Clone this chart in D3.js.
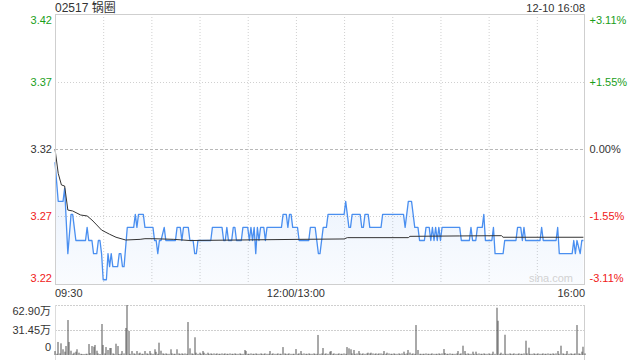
<!DOCTYPE html>
<html><head><meta charset="utf-8">
<script src="https://cdn.jsdelivr.net/npm/d3@7"></script>
<style>
html,body{margin:0;padding:0;background:#fff;}
svg{display:block;font-family:"Liberation Sans","Noto Sans CJK SC",Arial,sans-serif;}
</style></head>
<body><svg id="c" width="640" height="360"></svg>
<script>
// ---- data ----
const title = "02517 锅圈";
const stamp = "12-10 16:08";
const prevClose = 3.32;
const pctTicks = [3.11, 1.55, 0, -1.55, -3.11];
const priceTickLabels = ["3.42", "3.37", "3.32", "3.27", "3.22"];
const pctTickLabels = ["+3.11%", "+1.55%", "0.00%", "-1.55%", "-3.11%"];
const timeTickMinutes = [0, 150, 330];
const timeTickLabels = ["09:30", "12:00/13:00", "16:00"];
const volTicks = [62.9, 31.45, 0];
const volTickLabels = ["62.90万", "31.45万", "0"];
// [trading minute since 09:30, price]
const priceSeries = [[0,3.31],[2,3.28],[5,3.28],[6,3.29],[8,3.24],[10,3.27],[11,3.27],[12,3.26],[13,3.25],[19,3.25],[20,3.26],[21,3.25],[23,3.25],[24,3.24],[26,3.24],[27,3.25],[28,3.25],[29,3.24],[30,3.22],[32,3.22],[33,3.24],[34,3.23],[35,3.24],[36,3.23],[39,3.23],[40,3.24],[41,3.24],[42,3.23],[43,3.23],[45,3.26],[49,3.26],[50,3.27],[51,3.26],[52,3.27],[55,3.27],[56,3.26],[61,3.26],[62,3.25],[63,3.25],[64,3.24],[65,3.25],[66,3.25],[68,3.26],[69,3.25],[75,3.25],[76,3.26],[78,3.26],[79,3.25],[80,3.26],[83,3.26],[84,3.25],[86,3.25],[87,3.24],[88,3.24],[89,3.25],[97,3.25],[98,3.26],[104,3.26],[105,3.25],[106,3.25],[107,3.26],[108,3.25],[110,3.25],[111,3.26],[112,3.26],[113,3.25],[116,3.25],[117,3.26],[120,3.26],[121,3.25],[122,3.26],[123,3.25],[124,3.26],[125,3.24],[126,3.26],[127,3.25],[128,3.26],[130,3.26],[131,3.25],[132,3.26],[141,3.26],[142,3.27],[144,3.27],[145,3.26],[146,3.27],[147,3.27],[148,3.26],[151,3.26],[152,3.25],[158,3.25],[159,3.26],[162,3.26],[164,3.24],[165,3.24],[167,3.26],[169,3.26],[170,3.27],[180,3.27],[181,3.28],[183,3.26],[184,3.26],[185,3.27],[190,3.27],[191,3.26],[192,3.26],[193,3.27],[195,3.27],[196,3.26],[203,3.26],[204,3.27],[217,3.27],[218,3.26],[220,3.28],[222,3.28],[224,3.26],[226,3.26],[227,3.25],[230,3.25],[231,3.26],[233,3.26],[234,3.25],[235,3.26],[236,3.25],[237,3.26],[238,3.25],[239,3.26],[240,3.25],[241,3.26],[252,3.26],[253,3.25],[258,3.25],[259,3.26],[260,3.25],[262,3.25],[263,3.26],[266,3.26],[267,3.27],[268,3.25],[272,3.25],[273,3.26],[274,3.24],[279,3.24],[280,3.25],[287,3.25],[288,3.26],[290,3.26],[291,3.25],[292,3.26],[293,3.25],[302,3.25],[303,3.26],[304,3.25],[312,3.25],[313,3.26],[314,3.24],[322,3.24],[323,3.25],[324,3.24],[325,3.25],[327,3.24],[328,3.25],[329,3.25]];
// [trading minute, average price]
const avgSeries = [[0,3.32],[2,3.3014],[4,3.2925],[6,3.2917],[8,3.2733],[11,3.2726],[16,3.2695],[20,3.2688],[23,3.2657],[26,3.2619],[29,3.258],[34,3.2548],[38,3.2525],[44,3.2504],[53,3.2509],[56,3.2514],[61,3.2514],[74,3.2509],[84,3.25],[152,3.2509],[180,3.2512],[182,3.2522],[220,3.2522],[221,3.2532],[252,3.2535],[278,3.2537],[279,3.2525],[329,3.2525]];
// volume per minute, in 万 shares (minutes 0..330)
const volumes = [
5,1.5,16.4,2,14.7,7.2,4.2,11.3,44,16.4,5.4,1.5,2.9,4.2,7.2,2.9,1.5,1.3,1.3,1.5,
1.5,13.8,2.5,11.3,10.4,12.6,5.4,2,1.3,39,12.6,2,10,6.3,8.8,8.8,2,1.5,14.2,11.3,
1.3,1.5,5,2,34,62.9,30.2,1.5,5,2,1.5,5,2,2.9,1.5,1.5,5,2,1.5,5,
2,1.5,7.2,4,1.5,15.5,5.4,2,1.5,2,1.5,1.5,7.2,2,1.5,1.5,7.2,2,1.5,2,
1.5,2,1.5,41.5,8.4,2,1.5,22.3,2.9,1.5,2.9,1.5,5,2.9,1.5,2.9,1.5,2,1.5,2,
1.5,2,1.5,1.5,2,1.5,2,1.5,1.5,2,1.5,1.5,2,1.5,1.5,2,1.5,1.5,6.3,5,
1.5,1.5,2,1.5,1.5,2,1.5,1.5,2,1.5,1.5,2,1.5,1.5,5,1.5,2,1.5,1.5,2,
1.5,1.5,10,2,1.5,1.5,2,1.5,1.5,1.5,7.5,1.5,2,5,1.5,2,1.5,1.5,2,1.5,
1.5,2,1.5,1.5,25.2,1.5,2,8.8,1.5,2,1.5,4.2,5,1.5,2,1.5,1.5,2,1.5,1.5,
2,1.5,10,8.4,7.2,2,6.3,1.5,2,5,2,1.5,2,1.5,2,2.9,2,2.9,2,1.5,
2,1.5,2,2,1.5,5,1.5,2.9,2,1.5,1.5,2,1.5,1.5,2,1.5,2,4.2,1.5,2,
6.3,3,1.5,2,1.5,37.7,6.3,1.5,1.5,1.5,1.5,2,1.5,1.5,1.5,2,1.5,1.5,1.5,2,
1.5,2,7.5,2.5,1.5,1.5,2,1.5,1.5,1.5,2,5,1.5,2,11.7,5,1.5,2,1.5,1.5,
4.2,1.5,4.2,1.5,2,1.5,1.5,2,1.5,1.5,2,1.5,1.5,4.2,1.5,59.5,43.1,1.5,2.9,1.5,
25.5,1.5,1.5,2,1.5,1.5,2,1.5,1.5,2,1.5,1.5,2,18,2,9.2,1.5,1.5,2,1.5,
1.5,2,1.5,1.5,2,1.5,1.5,2,1.5,1.5,2,1.5,2,5,1.5,11.7,2,1.5,1.5,5,
1.5,2,1.5,1.5,2,37.7,2,1.5,4.2,10.4,2];

// ---- layout ----
const svg = d3.select("#c");
const L = 55, R = 585, T = 14, B = 284, VT = 305, VB = 355;
const GREEN = "#1a9e1a", RED = "#f02020", DARK = "#333";
const x = d3.scaleLinear().domain([0, 330]).range([L, R]);
const y = d3.scaleLinear().domain([prevClose * (1 - 0.0311), prevClose * (1 + 0.0311)]).range([B, T]);
const yv = d3.scaleLinear().domain([0, 62.9]).range([VB, VT]);

// gradient
const defs = svg.append("defs");
const g = defs.append("linearGradient").attr("id", "fillg").attr("x1", 0).attr("y1", 0).attr("x2", 0).attr("y2", 1);
g.append("stop").attr("offset", "0%").attr("stop-color", "#4d90ee").attr("stop-opacity", 0.13);
g.append("stop").attr("offset", "100%").attr("stop-color", "#4d90ee").attr("stop-opacity", 0.03);

// title
svg.append("text").attr("x", L).attr("y", 11.5).attr("font-size", 12).attr("fill", DARK).text(title);
svg.append("text").attr("x", R).attr("y", 11.5).attr("text-anchor", "end").attr("font-size", 11).attr("fill", DARK).text(stamp);

// vertical gridlines every 30 minutes
const vgrid = d3.range(30, 330, 30);
svg.append("g").selectAll("line").data(vgrid).join("line")
  .attr("x1", d => x(d) + 0.5).attr("x2", d => x(d) + 0.5).attr("y1", T).attr("y2", B)
  .attr("stroke", "#d0d0d0").attr("stroke-dasharray", "1,2");

// horizontal gridlines
svg.append("g").selectAll("line").data(pctTicks.filter(p => Math.abs(p) < 3)).join("line")
  .attr("x1", L).attr("x2", R)
  .attr("y1", d => Math.round(y(prevClose * (1 + d / 100))) + 0.5)
  .attr("y2", d => Math.round(y(prevClose * (1 + d / 100))) + 0.5)
  .attr("stroke", d => d === 0 ? "#b8b8b8" : "#d0d0d0")
  .attr("stroke-dasharray", d => d === 0 ? "3,2" : "1,2");

// area + price line
const area = d3.area().x(d => x(d[0])).y0(B).y1(d => y(d[1]));
svg.append("path").datum(priceSeries).attr("d", area).attr("fill", "url(#fillg)");
const line = d3.line().x(d => x(d[0])).y(d => y(d[1]));
svg.append("path").datum(priceSeries).attr("d", line).attr("fill", "none")
  .attr("stroke", "#4a8ff0").attr("stroke-width", 1.3).attr("stroke-linejoin", "round");
svg.append("path").datum(avgSeries).attr("d", line).attr("fill", "none")
  .attr("stroke", "#333").attr("stroke-width", 1);

// frame of price panel
svg.append("rect").attr("x", L + 0.5).attr("y", T + 0.5).attr("width", R - L - 1).attr("height", B - T)
  .attr("fill", "none").attr("stroke", "#cfcfcf");

// watermark
svg.append("text").attr("x", 573).attr("y", 282).attr("text-anchor", "end").attr("font-size", 11)
  .attr("fill", "#d2d2d2").text("sina.com");

// price labels
const colorFor = p => p > 0 ? GREEN : (p < 0 ? RED : DARK);
const labY = p => Math.max(20, Math.min(278, y(prevClose * (1 + p / 100))));
svg.append("g").selectAll("text").data(pctTicks).join("text")
  .attr("x", 52).attr("y", d => labY(d) + 4).attr("text-anchor", "end").attr("font-size", 11)
  .attr("fill", colorFor).text((d, i) => priceTickLabels[i]);
svg.append("g").selectAll("text").data(pctTicks).join("text")
  .attr("x", 589.5).attr("y", d => labY(d) + 4).attr("font-size", 11)
  .attr("fill", colorFor).text((d, i) => pctTickLabels[i]);

// time labels
const anchors = ["start", "middle", "end"];
svg.append("g").selectAll("text").data(timeTickMinutes).join("text")
  .attr("x", d => x(d)).attr("y", 297).attr("text-anchor", (d, i) => anchors[i])
  .attr("font-size", 11).attr("fill", DARK).text((d, i) => timeTickLabels[i]);

// volume panel
svg.append("g").selectAll("line").data([62.9, 31.45]).join("line")
  .attr("x1", L).attr("x2", R).attr("y1", d => Math.round(yv(d)) + 0.5).attr("y2", d => Math.round(yv(d)) + 0.5)
  .attr("stroke", "#cfcfcf").attr("stroke-dasharray", "2,1");
svg.append("line").attr("x1", L + 0.5).attr("x2", L + 0.5).attr("y1", VT).attr("y2", 360).attr("stroke", "#dcdcdc");
svg.append("line").attr("x1", R - 0.5).attr("x2", R - 0.5).attr("y1", VT).attr("y2", 360).attr("stroke", "#cfcfcf");
svg.append("g").selectAll("rect").data(volumes).join("rect")
  .attr("x", (d, i) => Math.round(x(i)) - 0.5).attr("width", 1)
  .attr("y", d => yv(d)).attr("height", d => VB - yv(d))
  .attr("fill", "#555");
svg.append("g").selectAll("text").data(volTicks).join("text")
  .attr("x", 51).attr("y", d => Math.max(311, Math.min(347, yv(d))) + 4).attr("text-anchor", "end")
  .attr("font-size", 11).attr("fill", DARK).text((d, i) => volTickLabels[i]);
</script>
</body></html>
